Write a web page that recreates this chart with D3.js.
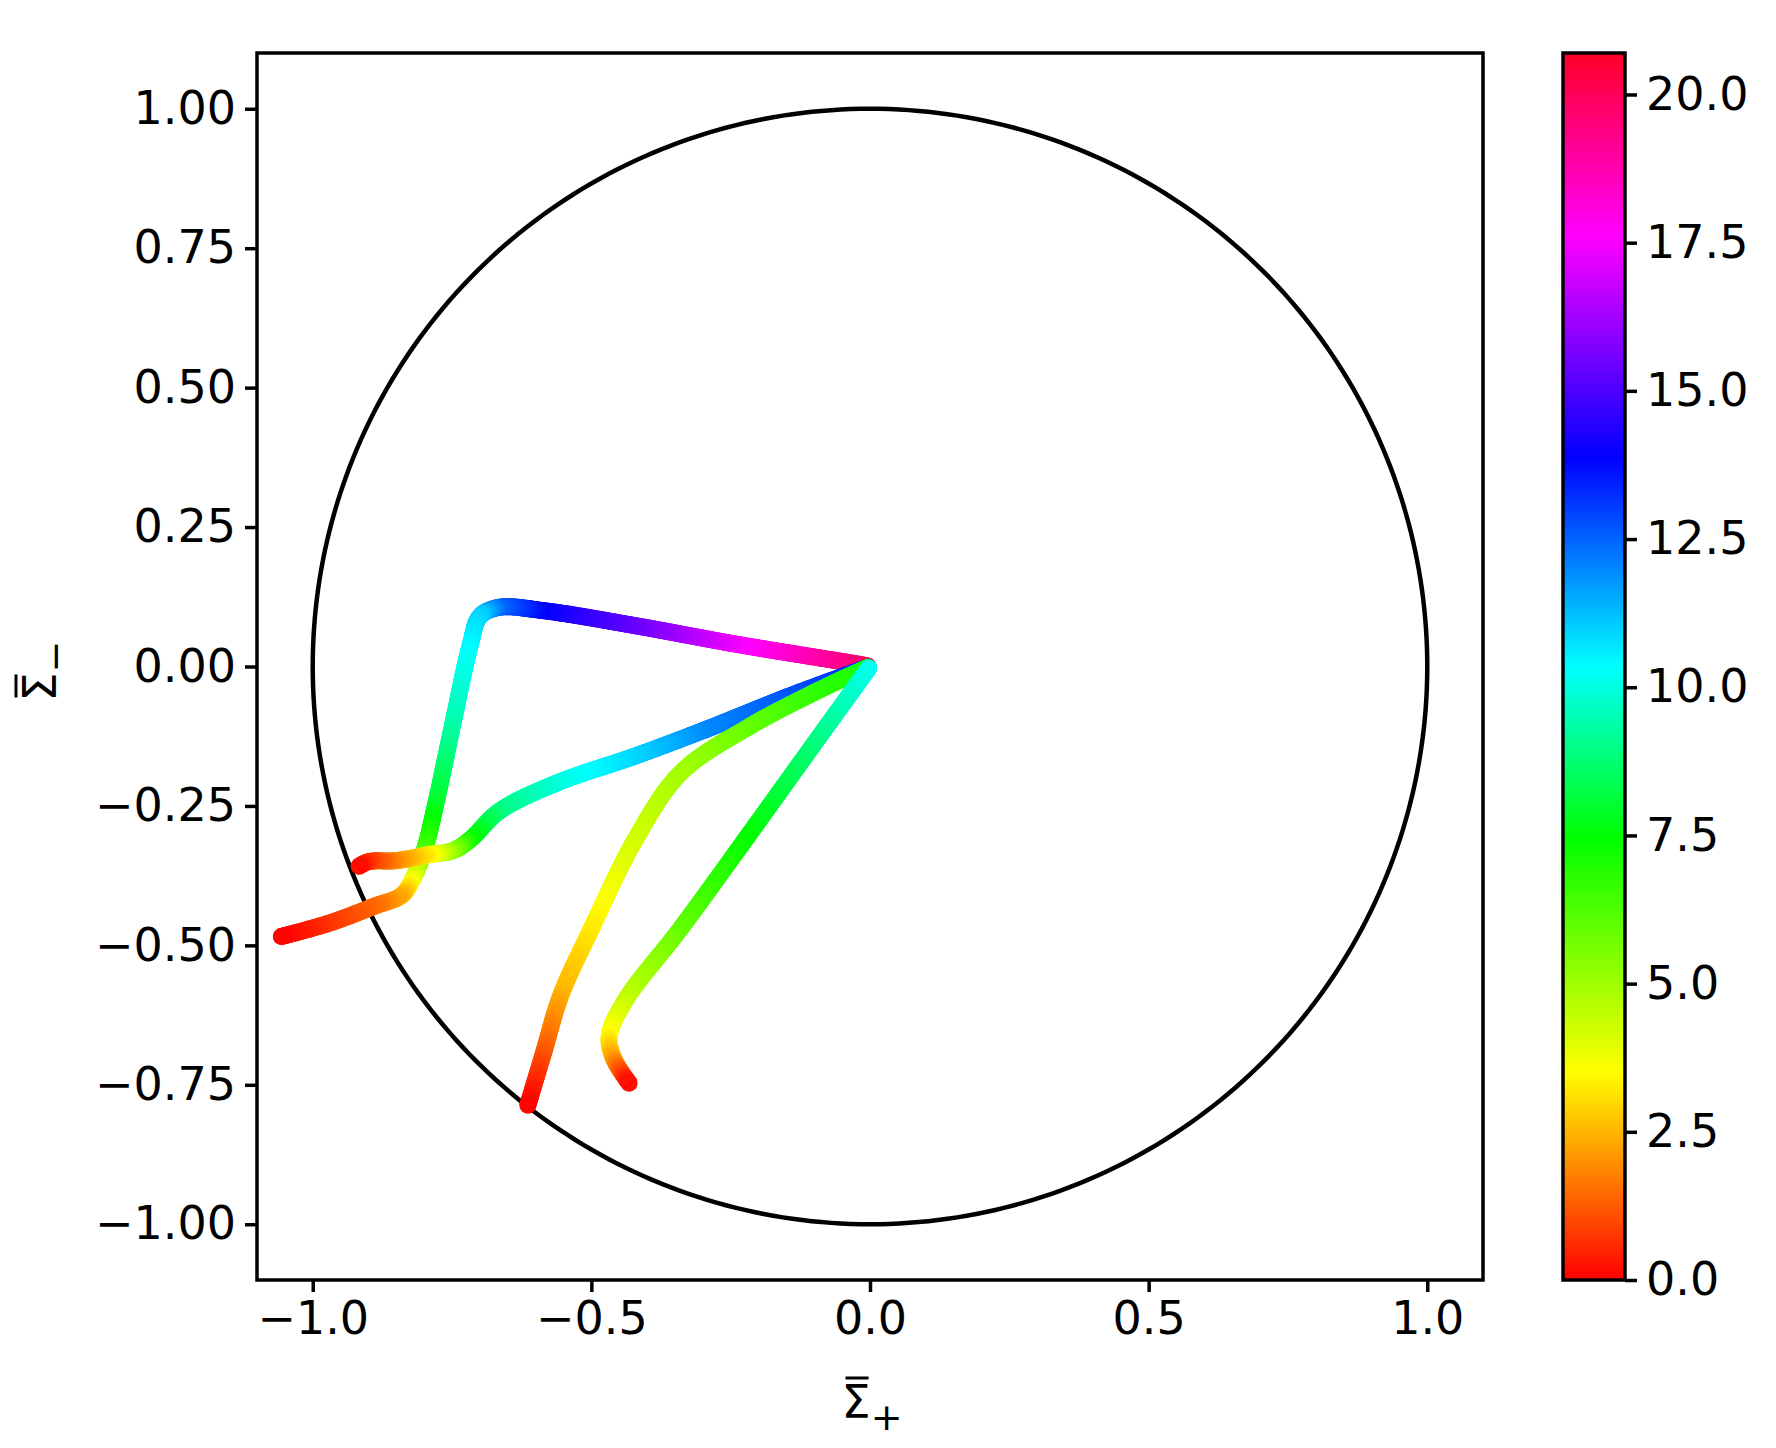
<!DOCTYPE html>
<html><head><meta charset="utf-8">
<script src="https://cdn.jsdelivr.net/npm/d3@7"></script>
<style>body{margin:0;background:#fff}text{font-family:"DejaVu Sans",sans-serif}</style>
</head><body><svg id="c" width="1776" height="1448"></svg>
<script>
// [x, y, t]
const traj1 = [[0,0,20.7],[-0.015,0.003,19.8],[-0.24,0.04,17.5],[-0.42,0.073,15.5],[-0.585,0.10,14],[-0.666,0.106,12.5],[-0.70,0.09,11],[-0.717,0.04,10.5],[-0.748,-0.10,9.5],[-0.78,-0.25,8],[-0.80,-0.33,6.5],[-0.82,-0.38,4],[-0.84,-0.41,2.5],[-0.89,-0.43,1.5],[-0.97,-0.46,0.8],[-1.06,-0.485,0]];
const traj2 = [[0,0,13.5],[-0.137,-0.05,12.8],[-0.30,-0.115,12],[-0.42,-0.16,11],[-0.565,-0.21,10],[-0.666,-0.26,9],[-0.717,-0.31,7.5],[-0.748,-0.33,5.5],[-0.789,-0.337,3.5],[-0.85,-0.348,2],[-0.90,-0.35,0.8],[-0.92,-0.36,0]];
const traj3 = [[0,0,7.2],[-0.04,-0.018,7],[-0.097,-0.045,6.8],[-0.217,-0.108,6],[-0.339,-0.19,5],[-0.42,-0.308,4.3],[-0.50,-0.47,3.3],[-0.555,-0.59,2.5],[-0.585,-0.69,1.3],[-0.615,-0.79,0]];
const traj4 = [[0,0,10.3],[-0.097,-0.134,9],[-0.22,-0.305,7.5],[-0.34,-0.47,6],[-0.44,-0.60,4.5],[-0.468,-0.663,3.5],[-0.46,-0.703,2.3],[-0.43,-0.75,0]];
const xTicks = [-1.0,-0.5,0.0,0.5,1.0];
const yTicks = [-1.0,-0.75,-0.5,-0.25,0,0.25,0.5,0.75,1.0];
const cbTicks = [0,2.5,5,7.5,10,12.5,15,17.5,20];
const tMax = 20.7;
const cmapStops = [[0,"#ff0000"],[0.17,"#ffff00"],[0.36,"#00ff00"],[0.5,"#00ffff"],[0.67,"#0000ff"],[0.85,"#ff00ff"],[1,"#ff0028"]];

const svg = d3.select("#c");
const L=257,R=1483,T=53,B=1280;
const x = d3.scaleLinear().domain([-1.1,1.1]).range([L,R]);
const y = d3.scaleLinear().domain([-1.1,1.1]).range([B,T]);
const color = d3.scaleLinear().domain(cmapStops.map(d=>d[0]*tMax)).range(cmapStops.map(d=>d[1])).clamp(true);
const minus = s => s.replace("-", "\u2212");

const th = d3.range(0, 361).map(a=>[Math.cos(a*Math.PI/180), Math.sin(a*Math.PI/180)]);
svg.append("path").attr("d", d3.line().x(d=>x(d[0])).y(d=>y(d[1]))(th)).attr("fill","none").attr("stroke","#000").attr("stroke-width",4.5);

const g = svg.append("g");
[traj1,traj2,traj3,traj4].forEach(tr=>{
  const p = g.append("path").attr("d", d3.line().x(d=>x(d[0])).y(d=>y(d[1])).curve(d3.curveCatmullRom)(tr)).attr("fill","none");
  const node = p.node(), len = node.getTotalLength();
  const cum=[0]; for(let i=1;i<tr.length;i++){const dx=x(tr[i][0])-x(tr[i-1][0]),dy=y(tr[i][1])-y(tr[i-1][1]);cum.push(cum[i-1]+Math.hypot(dx,dy));}
  const tAt = d3.scaleLinear().domain(cum.map(c=>c/cum[cum.length-1]*len)).range(tr.map(d=>d[2]));
  const N = Math.ceil(len/2);
  const pts = d3.range(N+1).map(i=>{const l=i/N*len;const q=node.getPointAtLength(l);return [q.x,q.y,tAt(l)];});
  for(let i=0;i<N;i++){
    g.append("line").attr("x1",pts[i][0]).attr("y1",pts[i][1]).attr("x2",pts[i+1][0]).attr("y2",pts[i+1][1])
     .attr("stroke",color((pts[i][2]+pts[i+1][2])/2)).attr("stroke-width",17).attr("stroke-linecap", (i==0||i==N-1)?"butt":"round");
  }
  p.remove();
});

svg.append("rect").attr("x",L).attr("y",T).attr("width",R-L).attr("height",B-T).attr("fill","none").attr("stroke","#000").attr("stroke-width",3.5);
const fs = 46;
const xa = svg.append("g").attr("transform",`translate(0,${B})`).call(d3.axisBottom(x).tickValues(xTicks).tickSize(12).tickPadding(9).tickFormat(d=>minus(d3.format(".1f")(d))));
const ya = svg.append("g").attr("transform",`translate(${L},0)`).call(d3.axisLeft(y).tickValues(yTicks).tickSize(12).tickPadding(9).tickFormat(d=>minus(d3.format(".2f")(d))));
[xa,ya].forEach(a=>{a.select(".domain").remove();a.selectAll("line").attr("stroke-width",3.5);a.selectAll("text").attr("font-size",fs).attr("font-family","DejaVu Sans").attr("fill","#000");});

// axis labels: Σ with overbar + subscript
function sigLabel(gr, sub){
  const t = gr.append("text").attr("x",0).attr("y",0).attr("font-size",fs);
  t.append("tspan").text("\u03A3");
  t.append("tspan").attr("dy",12).attr("font-size",38).text(sub);
  const w = t.node().getComputedTextLength();
  t.attr("x",-w/2);
  gr.append("line").attr("x1",-w/2+4).attr("x2",-w/2+27).attr("y1",-40).attr("y2",-40).attr("stroke","#000").attr("stroke-width",3);
}
sigLabel(svg.append("g").attr("transform","translate(872,1418)"), "+");
sigLabel(svg.append("g").attr("transform","translate(56,671) rotate(-90)"), "\u2212");

const cbL=1563, cbR=1625;
const cy = d3.scaleLinear().domain([0,tMax]).range([B,T]);
const grad = svg.append("defs").append("linearGradient").attr("id","cg").attr("x1",0).attr("y1",1).attr("x2",0).attr("y2",0);
cmapStops.forEach(s=>grad.append("stop").attr("offset",s[0]).attr("stop-color",s[1]));
svg.append("rect").attr("x",cbL).attr("y",T).attr("width",cbR-cbL).attr("height",B-T).attr("fill","url(#cg)").attr("stroke","#000").attr("stroke-width",3.5);
const ca = svg.append("g").attr("transform",`translate(${cbR},0)`).call(d3.axisRight(cy).tickValues(cbTicks).tickSize(12).tickPadding(9).tickFormat(d3.format(".1f")));
ca.select(".domain").remove();ca.selectAll("line").attr("stroke-width",3.5);ca.selectAll("text").attr("font-size",fs).attr("font-family","DejaVu Sans").attr("fill","#000");
</script></body></html>
